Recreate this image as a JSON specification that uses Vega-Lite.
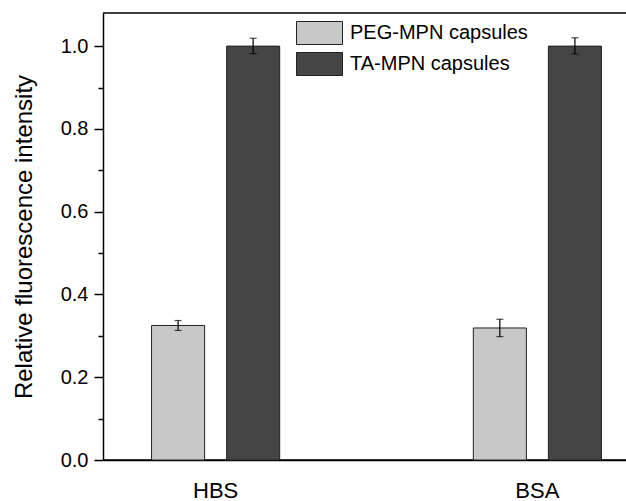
{
  "$schema": "https://vega.github.io/schema/vega-lite/v6.json",
  "autosize": "none",
  "padding": {"left": 103, "top": 13, "right": 0, "bottom": 41},
  "width": 523,
  "height": 447,
  "background": "white",
  "config": {
    "view": {"stroke": null},
    "font": "Liberation Sans",
    "axis": {"domainColor": "black", "domainWidth": 1.5, "tickColor": "black", "tickWidth": 1.5, "labelColor": "black", "titleColor": "black", "grid": false}
  },
  "data": {
    "values": [
      {"medium": "HBS", "capsule": "PEG-MPN capsules", "value": 0.325, "lo": 0.313, "hi": 0.337},
      {"medium": "HBS", "capsule": "TA-MPN capsules", "value": 1.0, "lo": 0.982, "hi": 1.019},
      {"medium": "BSA", "capsule": "PEG-MPN capsules", "value": 0.319, "lo": 0.298, "hi": 0.340},
      {"medium": "BSA", "capsule": "TA-MPN capsules", "value": 1.0, "lo": 0.981, "hi": 1.020}
    ]
  },
  "layer": [
    {
      "data": {"values": [{"edge": 1.08}, {"edge": 0}]},
      "mark": {"type": "rule", "color": "black", "strokeWidth": 1.5},
      "encoding": {"y": {"field": "edge", "type": "quantitative"}}
    },
    {
      "mark": {"type": "bar", "stroke": "#222222", "strokeWidth": 1},
      "encoding": {
        "x": {"field": "medium", "type": "nominal", "sort": ["HBS", "BSA"],
          "scale": {"range": [0, 547], "paddingInner": 0.3, "paddingOuter": 0},
          "axis": {"title": null, "orient": "bottom", "ticks": false, "tickSize": 0, "labelAngle": 0, "labelFontSize": 22, "labelPadding": 20, "domain": true}},
        "xOffset": {"field": "capsule", "type": "nominal", "sort": ["PEG-MPN capsules", "TA-MPN capsules"],
          "scale": {"paddingInner": 0.293, "paddingOuter": 0.647}},
        "y": {"field": "value", "type": "quantitative",
          "scale": {"domain": [0, 1.08], "nice": false, "zero": true},
          "axis": {
            "title": "Relative fluorescence intensity",
            "titleFontSize": 24, "titleFontWeight": "normal",
            "titleX": -67,
            "values": [0, 0.1, 0.2, 0.3, 0.4, 0.5, 0.6, 0.7, 0.8, 0.9, 1.0],
            "labelExpr": "round(datum.value*10) % 2 === 0 ? format(datum.value, '.1f') : ''",
            "tickSize": {"condition": {"test": "round(datum.value*10) % 2 === 0", "value": 9}, "value": 5},
            "labelFontSize": 20, "labelPadding": 6
          }},
        "color": {"field": "capsule", "type": "nominal",
          "scale": {"domain": ["PEG-MPN capsules", "TA-MPN capsules"], "range": ["#c8c8c8", "#454545"]},
          "legend": {
            "title": null, "orient": "none", "legendX": 204.5, "legendY": 8,
            "symbolType": "M-2,-1H2V1H-2Z", "symbolSize": 529,
            "symbolStrokeColor": "#222222", "symbolStrokeWidth": 1, "symbolOpacity": 1,
            "labelFontSize": 20, "labelOffset": 18.5, "labelLimit": 0, "rowPadding": 3, "padding": 0,
            "labelColor": "black"
          }}
      }
    },
    {
      "mark": {"type": "rule", "color": "black", "strokeWidth": 1.2},
      "encoding": {
        "x": {"field": "medium", "type": "nominal", "sort": ["HBS", "BSA"]},
        "xOffset": {"field": "capsule", "type": "nominal", "sort": ["PEG-MPN capsules", "TA-MPN capsules"]},
        "y": {"field": "lo", "type": "quantitative"},
        "y2": {"field": "hi"}
      }
    },
    {
      "mark": {"type": "tick", "color": "black", "thickness": 1.2, "size": 7},
      "encoding": {
        "x": {"field": "medium", "type": "nominal", "sort": ["HBS", "BSA"]},
        "xOffset": {"field": "capsule", "type": "nominal", "sort": ["PEG-MPN capsules", "TA-MPN capsules"]},
        "y": {"field": "lo", "type": "quantitative"}
      }
    },
    {
      "mark": {"type": "tick", "color": "black", "thickness": 1.2, "size": 7},
      "encoding": {
        "x": {"field": "medium", "type": "nominal", "sort": ["HBS", "BSA"]},
        "xOffset": {"field": "capsule", "type": "nominal", "sort": ["PEG-MPN capsules", "TA-MPN capsules"]},
        "y": {"field": "hi", "type": "quantitative"}
      }
    }
  ]
}
